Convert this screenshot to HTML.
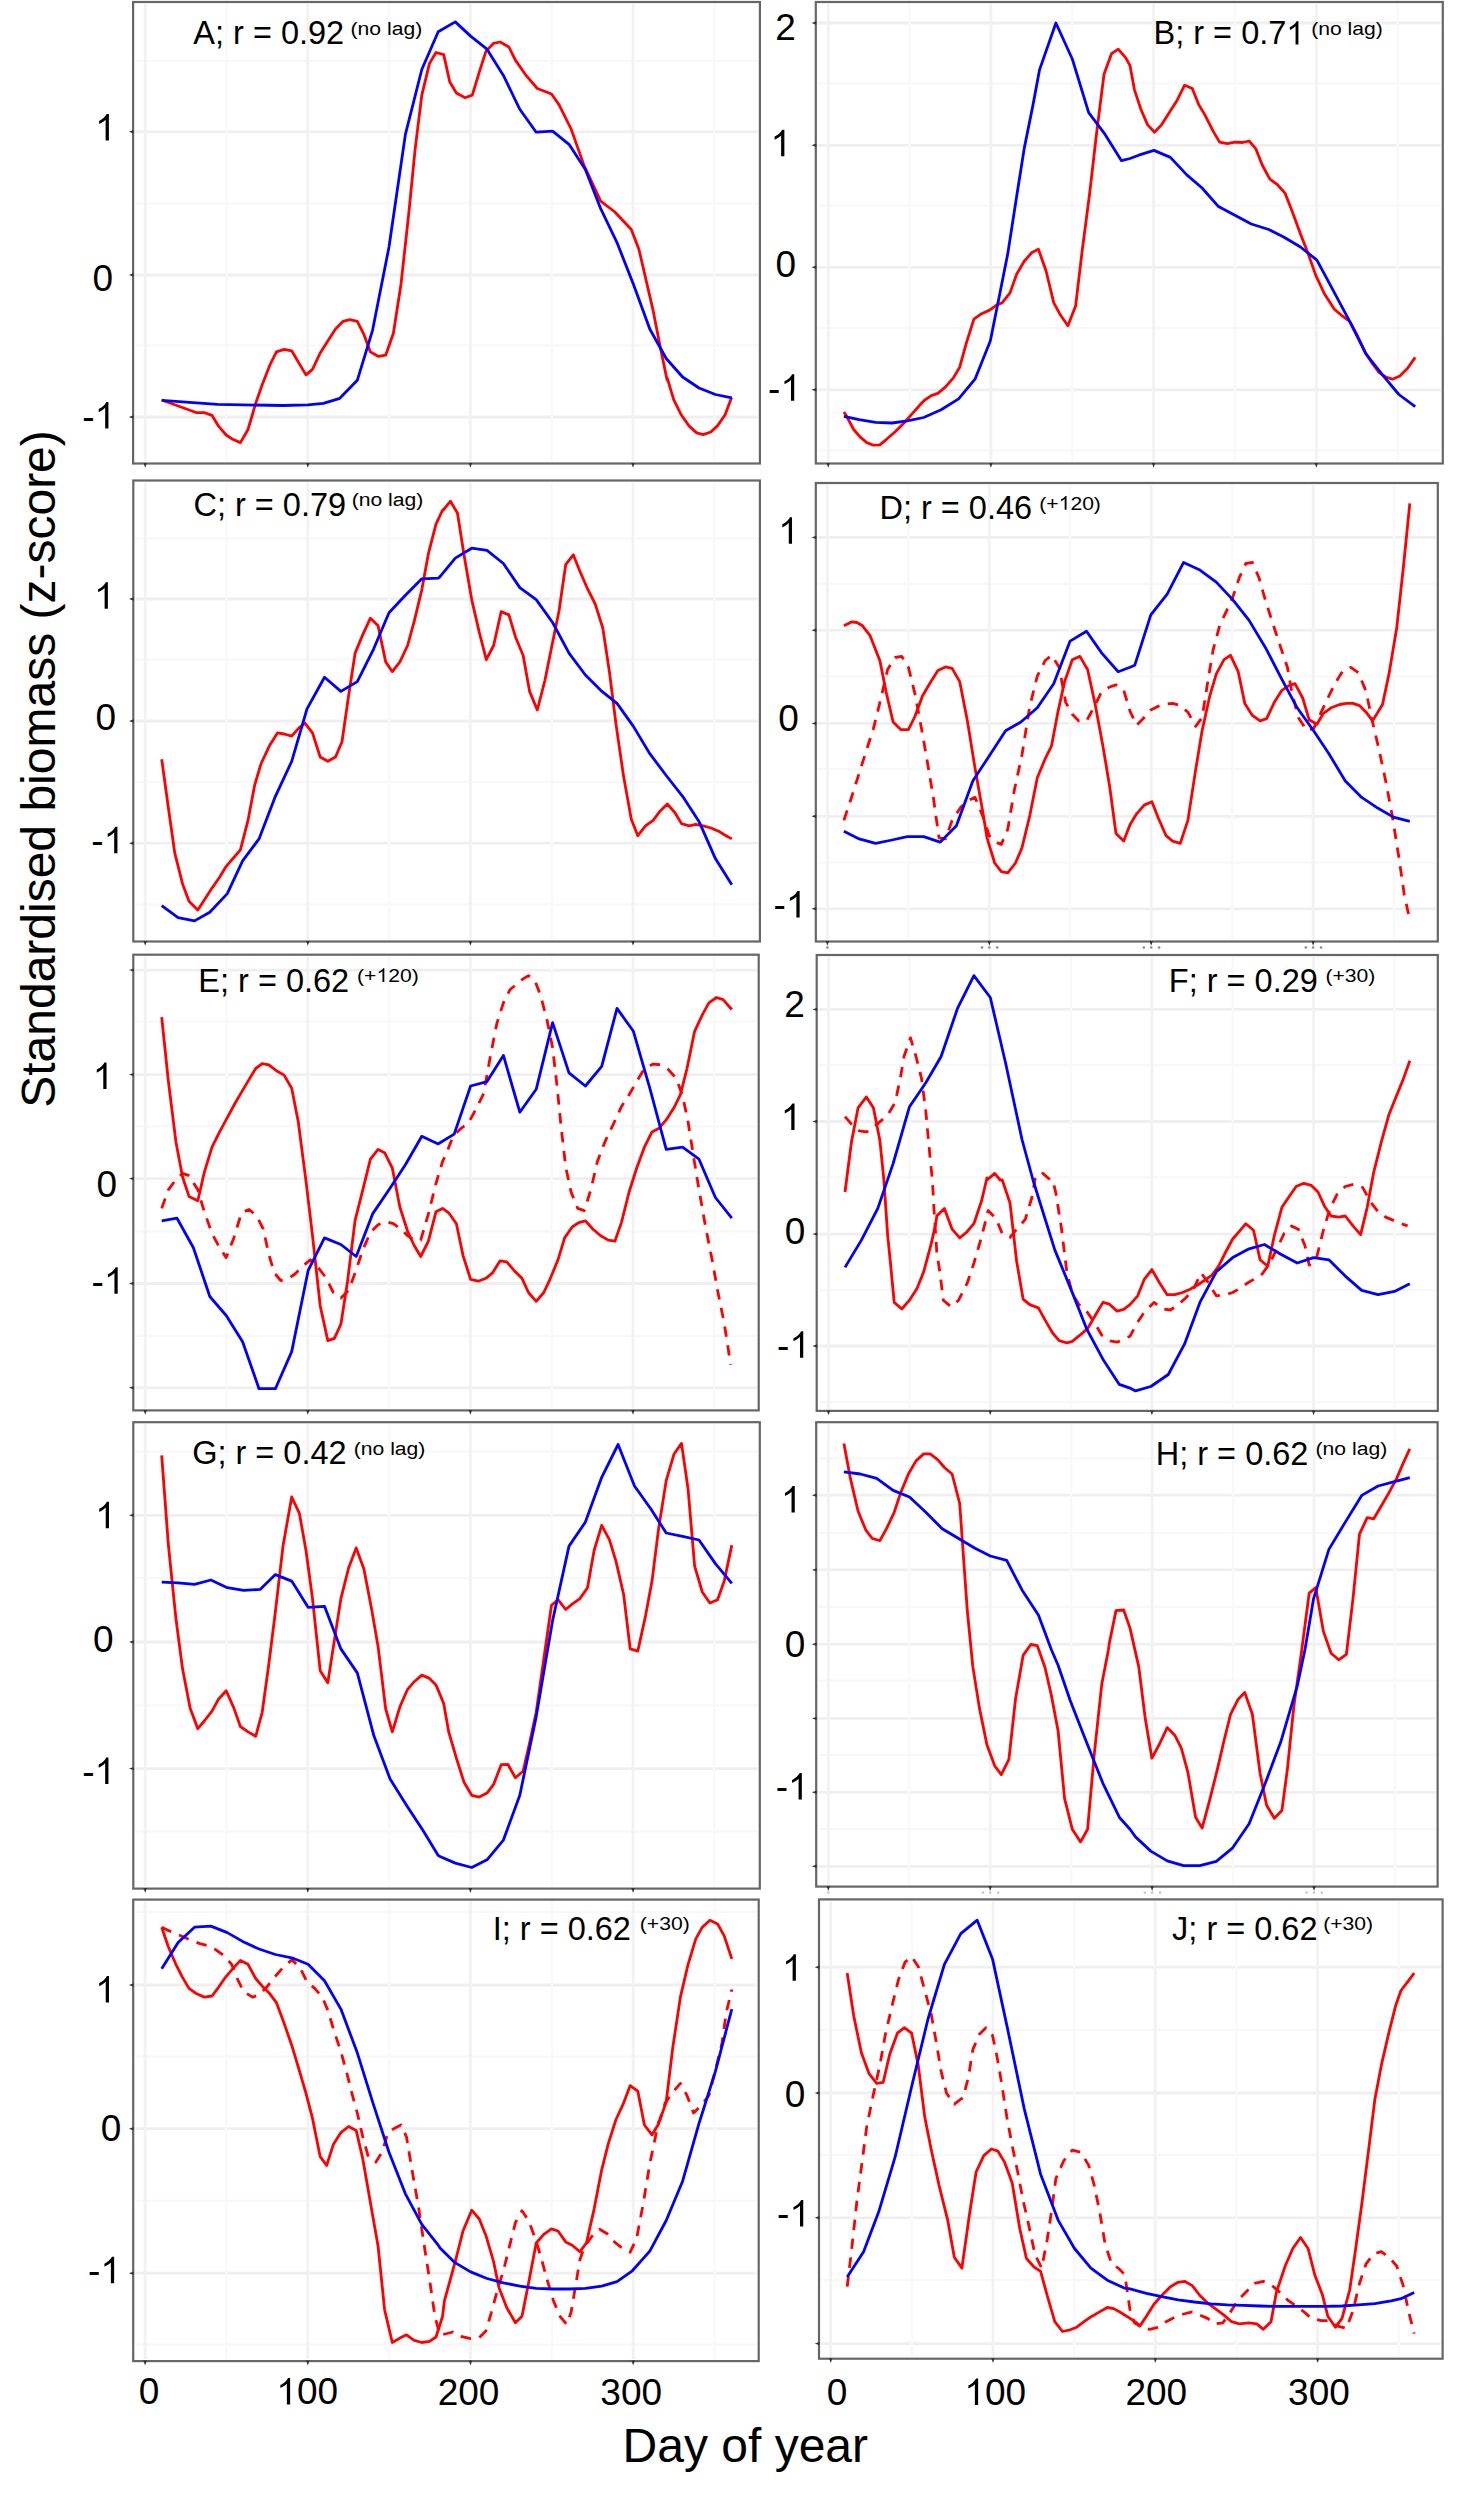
<!DOCTYPE html><html><head><meta charset="utf-8"><style>html,body{margin:0;padding:0;background:#fff;}svg{display:block;}svg text{font-family:"Liberation Sans", sans-serif;}</style></head><body>
<svg width="1464" height="2500" viewBox="0 0 1464 2500">
<rect width="1464" height="2500" fill="#fff"/>
<line x1="135.1" y1="60.8" x2="757.9" y2="60.8" stroke="#f8f8f8" stroke-width="2.2"/>
<line x1="135.1" y1="131.8" x2="757.9" y2="131.8" stroke="#efefef" stroke-width="2.8"/>
<line x1="135.1" y1="203.3" x2="757.9" y2="203.3" stroke="#f8f8f8" stroke-width="2.2"/>
<line x1="135.1" y1="275" x2="757.9" y2="275" stroke="#efefef" stroke-width="2.8"/>
<line x1="135.1" y1="345.4" x2="757.9" y2="345.4" stroke="#f8f8f8" stroke-width="2.2"/>
<line x1="135.1" y1="417" x2="757.9" y2="417" stroke="#efefef" stroke-width="2.8"/>
<line x1="145.2" y1="4" x2="145.2" y2="461.5" stroke="#f2f2f2" stroke-width="2.8"/>
<line x1="226.5" y1="4" x2="226.5" y2="461.5" stroke="#f9f9f9" stroke-width="2.4"/>
<line x1="307.8" y1="4" x2="307.8" y2="461.5" stroke="#f2f2f2" stroke-width="2.8"/>
<line x1="389.1" y1="4" x2="389.1" y2="461.5" stroke="#f9f9f9" stroke-width="2.4"/>
<line x1="470.4" y1="4" x2="470.4" y2="461.5" stroke="#f2f2f2" stroke-width="2.8"/>
<line x1="551.7" y1="4" x2="551.7" y2="461.5" stroke="#f9f9f9" stroke-width="2.4"/>
<line x1="633" y1="4" x2="633" y2="461.5" stroke="#f2f2f2" stroke-width="2.8"/>
<line x1="714.3" y1="4" x2="714.3" y2="461.5" stroke="#f9f9f9" stroke-width="2.4"/>
<path d="M161.7 400 L196.7 412.7 L204.3 412.7 L212 415.3 L218.5 426.2 L226.2 435 L232.7 439.3 L240.4 442.6 L248 429.5 L255.7 403.3 L262.2 384.7 L269.9 365 L276.4 351.9 L284.1 349.3 L291.7 350.8 L299.4 363.9 L306 374.9 L312.5 369.4 L320.2 353 L327.8 341 L335.5 329 L343.1 321.3 L349.7 319.6 L357.3 321.3 L363.9 334.4 L370.4 351.9 L378.1 356.3 L385.7 355.2 L393.4 333.3 L401 284.2 L408.7 214.2 L415.2 148.6 L421.8 95.1 L429.5 63.4 L436 52.5 L443.7 54.6 L449.8 82 L456.4 92.9 L465.1 97.7 L472.3 95.1 L479.3 72.1 L485.9 51.4 L493.6 43.3 L500.1 42 L508.9 47 L515.4 60.1 L525.2 74.3 L537.3 88.5 L551.5 94 L559.1 104.9 L571.1 129 L584.3 166.1 L600.7 201.1 L614.9 212 L631.3 229.5 L638.9 249.2 L653.1 310.4 L660.8 349.7 L667.1 380 L667.3 378.1 L673.7 399.7 L681.3 415 L689 425.9 L696.6 432.9 L703.2 434.6 L710.8 432 L717.4 425.9 L725 415 L731.6 397.5" fill="none" stroke="#ff0000" stroke-width="2.8" stroke-linejoin="round"/>
<path d="M161.7 400.4 L217.4 404.4 L283 405.5 L308.1 404.8 L323.4 403.3 L339.8 398.3 L357.3 380.3 L372.6 330.1 L389 247 L405.4 134.4 L421.8 69.5 L438.2 31.7 L455.3 21.9 L470.6 36.1 L487 49.2 L503.4 75.4 L519.8 109.3 L536.2 132.2 L552.6 131.1 L569 144.3 L585.4 169.4 L600.7 208.7 L617 242.6 L633.4 284.2 L649.8 329 L666.2 358.5 L682.6 377 L699 388 L715.4 394.5 L731.8 397.8" fill="none" stroke="#0000ff" stroke-width="2.8" stroke-linejoin="round"/>
<rect x="133.1" y="2" width="626.8" height="461.5" fill="none" stroke="#666" stroke-width="2.2"/>
<path d="M133.60 130.10L133.60 133.50L128.80 131.80Z" fill="#333"/>
<path d="M133.60 273.30L133.60 276.70L128.80 275.00Z" fill="#333"/>
<path d="M133.60 415.30L133.60 418.70L128.80 417.00Z" fill="#333"/>
<path d="M143.50 463.00L146.90 463.00L145.20 467.80Z" fill="#333"/>
<path d="M306.10 463.00L309.50 463.00L307.80 467.80Z" fill="#333"/>
<path d="M468.70 463.00L472.10 463.00L470.40 467.80Z" fill="#333"/>
<path d="M631.30 463.00L634.70 463.00L633.00 467.80Z" fill="#333"/>
<path d="M763 0L583 0L583 1147C518 1085 433 1023 327 961C286 937 250 919 223 906L223 1080C315 1123 396 1175 466 1236C536 1297 586 1357 616 1415L646 1466L763 1466Z" transform="translate(95.09 140.44) scale(0.01807 -0.01807)"/>
<text x="92.61" y="290.99" font-size="37">0</text>
<text x="82.33" y="428.54" font-size="37">-</text><path d="M763 0L583 0L583 1147C518 1085 433 1023 327 961C286 937 250 919 223 906L223 1080C315 1123 396 1175 466 1236C536 1297 586 1357 616 1415L646 1466L763 1466Z" transform="translate(94.65 428.54) scale(0.01807 -0.01807)"/>
<text x="193.34" y="44.40" font-size="32.5" xml:space="preserve">A; r = 0.92</text>
<g transform="translate(350.59 34.70) scale(1.1 1)"><text x="0.00" y="0.00" font-size="19.2" xml:space="preserve">(no lag)</text></g>
<line x1="817.8" y1="23" x2="1440.8" y2="23" stroke="#efefef" stroke-width="2.8"/>
<line x1="817.8" y1="83.7" x2="1440.8" y2="83.7" stroke="#f8f8f8" stroke-width="2.2"/>
<line x1="817.8" y1="145.3" x2="1440.8" y2="145.3" stroke="#efefef" stroke-width="2.8"/>
<line x1="817.8" y1="205.5" x2="1440.8" y2="205.5" stroke="#f8f8f8" stroke-width="2.2"/>
<line x1="817.8" y1="267.3" x2="1440.8" y2="267.3" stroke="#efefef" stroke-width="2.8"/>
<line x1="817.8" y1="328" x2="1440.8" y2="328" stroke="#f8f8f8" stroke-width="2.2"/>
<line x1="817.8" y1="389.8" x2="1440.8" y2="389.8" stroke="#efefef" stroke-width="2.8"/>
<line x1="817.8" y1="450.3" x2="1440.8" y2="450.3" stroke="#f8f8f8" stroke-width="2.2"/>
<line x1="828.2" y1="4" x2="828.2" y2="461.5" stroke="#f2f2f2" stroke-width="2.8"/>
<line x1="909.6" y1="4" x2="909.6" y2="461.5" stroke="#f9f9f9" stroke-width="2.4"/>
<line x1="990.9" y1="4" x2="990.9" y2="461.5" stroke="#f2f2f2" stroke-width="2.8"/>
<line x1="1072.2" y1="4" x2="1072.2" y2="461.5" stroke="#f9f9f9" stroke-width="2.4"/>
<line x1="1153.6" y1="4" x2="1153.6" y2="461.5" stroke="#f2f2f2" stroke-width="2.8"/>
<line x1="1235" y1="4" x2="1235" y2="461.5" stroke="#f9f9f9" stroke-width="2.4"/>
<line x1="1316.3" y1="4" x2="1316.3" y2="461.5" stroke="#f2f2f2" stroke-width="2.8"/>
<line x1="1397.7" y1="4" x2="1397.7" y2="461.5" stroke="#f9f9f9" stroke-width="2.4"/>
<path d="M843.9 412 L846.1 415.3 L853.7 429.5 L860.3 437.2 L866.8 442.6 L873.4 445.2 L879.9 444.8 L886.5 439.3 L895.2 431.7 L904 423 L912.7 413.1 L921.5 403.3 L924.8 400 L931.3 395.6 L937.9 393.4 L945.5 386.9 L953.2 378.1 L959.7 367.2 L966.3 343.2 L973.9 319.1 L981.6 313.7 L989.2 310.4 L996.9 304.9 L1002.3 302.7 L1010 292.9 L1016.6 274.3 L1024.2 261.2 L1031.9 252.5 L1038.4 249.2 L1046.1 271 L1053.7 302.7 L1060.3 314.8 L1067.9 325.7 L1075.6 306 L1082.1 251.4 L1089.8 192.3 L1096.3 135.5 L1104 74.3 L1111.6 53.6 L1118.2 49.2 L1125.8 57.9 L1130 65.6 L1134.4 89.6 L1140.9 109.3 L1147.5 124.6 L1154.5 132.2 L1161.7 124.6 L1169.3 112.6 L1177 100.5 L1184.6 85.2 L1192.3 88.5 L1198.9 104.9 L1205.4 115.8 L1213.1 131.1 L1219.6 142.1 L1227.3 143.6 L1234.9 142.1 L1242.6 142.5 L1249.1 141 L1255.7 148.6 L1262.2 165 L1269.9 179.2 L1277.5 184.7 L1285.2 193.4 L1292.8 213.1 L1300.5 233.9 L1308.1 253.6 L1315.8 275.4 L1324.5 294 L1334.4 309.3 L1340.9 314.8 L1349.7 321.3 L1357.3 335.5 L1365 351.9 L1372.6 363.9 L1379.2 372.7 L1385.7 377 L1392.3 379.2 L1399.9 376 L1407.6 368.3 L1415.2 357.4" fill="none" stroke="#ff0000" stroke-width="2.8" stroke-linejoin="round"/>
<path d="M843.9 416.4 L859.2 419.7 L875.6 422.3 L892 423 L907.3 420.8 L923.7 417.5 L941.1 409.8 L958.6 398.9 L975 379.2 L990.3 341 L999.1 297.3 L1007.8 253.6 L1016.6 196.7 L1024.2 148.6 L1033 104.9 L1039.5 69.9 L1055.9 23 L1072.3 59 L1088.7 112.6 L1105.1 134.4 L1121.5 160.7 L1130 158.5 L1138.7 155.2 L1154 150.4 L1170.4 157.4 L1186.8 174.9 L1202.1 188 L1218.5 206.6 L1234.9 215.3 L1251.3 224 L1268.8 229.5 L1284.1 237.2 L1300.5 247 L1316.9 260.1 L1333.3 290.7 L1349.7 321.3 L1366.1 354.1 L1382.5 374.9 L1398.9 394.5 L1415.2 406.6" fill="none" stroke="#0000ff" stroke-width="2.8" stroke-linejoin="round"/>
<rect x="815.8" y="2" width="627" height="461.5" fill="none" stroke="#666" stroke-width="2.2"/>
<path d="M816.30 21.30L816.30 24.70L811.50 23.00Z" fill="#333"/>
<path d="M816.30 143.60L816.30 147.00L811.50 145.30Z" fill="#333"/>
<path d="M816.30 265.60L816.30 269.00L811.50 267.30Z" fill="#333"/>
<path d="M816.30 388.10L816.30 391.50L811.50 389.80Z" fill="#333"/>
<path d="M826.50 463.00L829.90 463.00L828.20 467.80Z" fill="#333"/>
<path d="M989.20 463.00L992.60 463.00L990.90 467.80Z" fill="#333"/>
<path d="M1151.90 463.00L1155.30 463.00L1153.60 467.80Z" fill="#333"/>
<path d="M1314.60 463.00L1318.00 463.00L1316.30 467.80Z" fill="#333"/>
<text x="775.21" y="40.27" font-size="37">2</text>
<path d="M763 0L583 0L583 1147C518 1085 433 1023 327 961C286 937 250 919 223 906L223 1080C315 1123 396 1175 466 1236C536 1297 586 1357 616 1415L646 1466L763 1466Z" transform="translate(770.59 156.14) scale(0.01807 -0.01807)"/>
<text x="775.46" y="277.24" font-size="37">0</text>
<text x="768.12" y="400.74" font-size="37">-</text><path d="M763 0L583 0L583 1147C518 1085 433 1023 327 961C286 937 250 919 223 906L223 1080C315 1123 396 1175 466 1236C536 1297 586 1357 616 1415L646 1466L763 1466Z" transform="translate(780.45 400.74) scale(0.01807 -0.01807)"/>
<text x="1153.54" y="44.40" font-size="32.5" xml:space="preserve">B; r = 0.7</text><path d="M763 0L583 0L583 1147C518 1085 433 1023 327 961C286 937 250 919 223 906L223 1080C315 1123 396 1175 466 1236C536 1297 586 1357 616 1415L646 1466L763 1466Z" transform="translate(1286.31 44.40) scale(0.01587 -0.01587)"/>
<g transform="translate(1311.19 34.70) scale(1.1 1)"><text x="0.00" y="0.00" font-size="19.2" xml:space="preserve">(no lag)</text></g>
<line x1="135.3" y1="538.4" x2="757.9" y2="538.4" stroke="#f8f8f8" stroke-width="2.2"/>
<line x1="135.3" y1="599" x2="757.9" y2="599" stroke="#efefef" stroke-width="2.8"/>
<line x1="135.3" y1="659.7" x2="757.9" y2="659.7" stroke="#f8f8f8" stroke-width="2.2"/>
<line x1="135.3" y1="721" x2="757.9" y2="721" stroke="#efefef" stroke-width="2.8"/>
<line x1="135.3" y1="782.1" x2="757.9" y2="782.1" stroke="#f8f8f8" stroke-width="2.2"/>
<line x1="135.3" y1="843.2" x2="757.9" y2="843.2" stroke="#efefef" stroke-width="2.8"/>
<line x1="135.3" y1="904.5" x2="757.9" y2="904.5" stroke="#f8f8f8" stroke-width="2.2"/>
<line x1="145.2" y1="482.5" x2="145.2" y2="939.5" stroke="#f2f2f2" stroke-width="2.8"/>
<line x1="226.5" y1="482.5" x2="226.5" y2="939.5" stroke="#f9f9f9" stroke-width="2.4"/>
<line x1="307.8" y1="482.5" x2="307.8" y2="939.5" stroke="#f2f2f2" stroke-width="2.8"/>
<line x1="389.1" y1="482.5" x2="389.1" y2="939.5" stroke="#f9f9f9" stroke-width="2.4"/>
<line x1="470.4" y1="482.5" x2="470.4" y2="939.5" stroke="#f2f2f2" stroke-width="2.8"/>
<line x1="551.7" y1="482.5" x2="551.7" y2="939.5" stroke="#f9f9f9" stroke-width="2.4"/>
<line x1="633" y1="482.5" x2="633" y2="939.5" stroke="#f2f2f2" stroke-width="2.8"/>
<line x1="714.3" y1="482.5" x2="714.3" y2="939.5" stroke="#f9f9f9" stroke-width="2.4"/>
<path d="M161.7 759.2 L168.3 807.2 L174.8 853.1 L182.5 883.7 L189 901.2 L197.8 910 L204.3 900.1 L212 888.1 L219.6 877.2 L226.2 866.3 L233.8 857.5 L240.4 849.9 L248 820.4 L254.6 785.4 L261.1 763.5 L269.9 744.9 L277.5 732.9 L284.1 734 L291.7 736.2 L298.3 728.6 L304.9 723.1 L312.5 732.9 L320.2 757 L327.8 761.3 L335.5 757 L342 741.7 L348.6 695.8 L355.1 653.1 L362.8 634.6 L370.4 618.2 L378.1 625.8 L385.7 661.9 L392.3 671.7 L399.9 661.9 L407.6 645.5 L414.2 621.4 L421.8 589.8 L428.4 553.7 L436 524.2 L442.6 510 L443.3 510 L450.5 501.2 L457.5 513.3 L464 554.8 L471.7 599.6 L479.3 632.4 L486.3 659.7 L493.6 645.5 L501.2 611.6 L508.9 614.9 L515.4 636.7 L523.1 655.3 L529.6 691.4 L537.3 710 L544.9 680.5 L551.5 647.7 L559.1 610.5 L565.7 564.6 L573.3 554.8 L579.9 571.2 L587.5 588.7 L595.2 604 L602.8 628 L609.4 671.7 L616 724.2 L623.6 776.6 L631.3 819.3 L637.8 835.7 L645.5 825.8 L653.1 820.4 L659.7 811.6 L667.3 804 L675 812.7 L681.5 823.6 L689.2 825.8 L695.7 824.3 L703.4 825.8 L711 828 L718.7 831.3 L725.2 835.2 L731.8 838.9" fill="none" stroke="#ff0000" stroke-width="2.8" stroke-linejoin="round"/>
<path d="M161.7 905.6 L178.1 917.6 L194.5 920.9 L209.8 912.2 L227.3 893.6 L242.6 860.8 L259 838.9 L275.4 796.3 L291.7 761.3 L307 708.9 L324.5 677.2 L340.9 691.4 L357.3 681.6 L373.7 648.8 L389 612.7 L405.4 595.2 L421.8 578.8 L438.2 578.2 L440 576.6 L455.3 558.1 L471.7 548.2 L487 550.4 L503.4 563.5 L519.8 587.6 L536.2 599.6 L552.6 622.5 L569 653.1 L585.4 675 L600.7 690.3 L617 703.4 L633.4 726.4 L649.8 753.7 L666.2 775.5 L682.6 796.3 L699 821.4 L715.4 858.6 L731.8 884.8" fill="none" stroke="#0000ff" stroke-width="2.8" stroke-linejoin="round"/>
<rect x="133.3" y="480.5" width="626.6" height="461" fill="none" stroke="#666" stroke-width="2.2"/>
<path d="M133.80 597.30L133.80 600.70L129.00 599.00Z" fill="#333"/>
<path d="M133.80 719.30L133.80 722.70L129.00 721.00Z" fill="#333"/>
<path d="M133.80 841.50L133.80 844.90L129.00 843.20Z" fill="#333"/>
<path d="M143.50 941.00L146.90 941.00L145.20 945.80Z" fill="#333"/>
<path d="M306.10 941.00L309.50 941.00L307.80 945.80Z" fill="#333"/>
<path d="M468.70 941.00L472.10 941.00L470.40 945.80Z" fill="#333"/>
<path d="M631.30 941.00L634.70 941.00L633.00 945.80Z" fill="#333"/>
<path d="M763 0L583 0L583 1147C518 1085 433 1023 327 961C286 937 250 919 223 906L223 1080C315 1123 396 1175 466 1236C536 1297 586 1357 616 1415L646 1466L763 1466Z" transform="translate(94.09 608.74) scale(0.01807 -0.01807)"/>
<text x="95.41" y="730.04" font-size="37">0</text>
<text x="91.33" y="853.29" font-size="37">-</text><path d="M763 0L583 0L583 1147C518 1085 433 1023 327 961C286 937 250 919 223 906L223 1080C315 1123 396 1175 466 1236C536 1297 586 1357 616 1415L646 1466L763 1466Z" transform="translate(103.65 853.29) scale(0.01807 -0.01807)"/>
<text x="193.45" y="516.10" font-size="32.5" xml:space="preserve">C; r = 0.79</text>
<g transform="translate(351.69 506.40) scale(1.1 1)"><text x="0.00" y="0.00" font-size="19.2" xml:space="preserve">(no lag)</text></g>
<line x1="817.8" y1="537.4" x2="1435.8" y2="537.4" stroke="#efefef" stroke-width="2.8"/>
<line x1="817.8" y1="583.9" x2="1435.8" y2="583.9" stroke="#f8f8f8" stroke-width="2.2"/>
<line x1="817.8" y1="630.2" x2="1435.8" y2="630.2" stroke="#efefef" stroke-width="2.8"/>
<line x1="817.8" y1="676.5" x2="1435.8" y2="676.5" stroke="#f8f8f8" stroke-width="2.2"/>
<line x1="817.8" y1="723.4" x2="1435.8" y2="723.4" stroke="#efefef" stroke-width="2.8"/>
<line x1="817.8" y1="769" x2="1435.8" y2="769" stroke="#f8f8f8" stroke-width="2.2"/>
<line x1="817.8" y1="816.3" x2="1435.8" y2="816.3" stroke="#efefef" stroke-width="2.8"/>
<line x1="817.8" y1="862.5" x2="1435.8" y2="862.5" stroke="#f8f8f8" stroke-width="2.2"/>
<line x1="817.8" y1="908.8" x2="1435.8" y2="908.8" stroke="#efefef" stroke-width="2.8"/>
<line x1="827.4" y1="485" x2="827.4" y2="939.5" stroke="#f2f2f2" stroke-width="2.8"/>
<line x1="908.4" y1="485" x2="908.4" y2="939.5" stroke="#f9f9f9" stroke-width="2.4"/>
<line x1="989.3" y1="485" x2="989.3" y2="939.5" stroke="#f2f2f2" stroke-width="2.8"/>
<line x1="1070.2" y1="485" x2="1070.2" y2="939.5" stroke="#f9f9f9" stroke-width="2.4"/>
<line x1="1151.2" y1="485" x2="1151.2" y2="939.5" stroke="#f2f2f2" stroke-width="2.8"/>
<line x1="1232.2" y1="485" x2="1232.2" y2="939.5" stroke="#f9f9f9" stroke-width="2.4"/>
<line x1="1313.1" y1="485" x2="1313.1" y2="939.5" stroke="#f2f2f2" stroke-width="2.8"/>
<line x1="1394" y1="485" x2="1394" y2="939.5" stroke="#f9f9f9" stroke-width="2.4"/>
<path d="M843.9 820.4 L850.4 800.7 L858.1 776.6 L865.7 752.6 L873.4 728.6 L881 698 L887.6 669.5 L895.2 657.5 L901.8 656.4 L908.4 667.3 L914.9 693.6 L921.5 728.6 L928 765.7 L933.5 798.5 L939 837.8 L945.5 838.9 L952.1 820.4 L960.8 807.2 L967.4 800.7 L975 797.4 L982.7 816 L989.2 835.7 L995.8 842.2 L1001.3 844.4 L1007.8 829.1 L1014.4 789.8 L1022 754.8 L1029.7 706.7 L1037.3 676.1 L1045 660.8 L1051.5 655.3 L1059.2 667.3 L1065.7 702.3 L1072.3 714.3 L1078.9 720.9 L1086.5 720.9 L1094.2 706.7 L1100.7 693.6 L1109.5 687 L1116 684.8 L1123.7 690.3 L1130 711.1 L1136.6 725.3 L1143.1 718.7 L1150.8 710 L1157.3 706.7 L1165 704.1 L1172.6 703.4 L1180.3 705.6 L1187.9 712.2 L1195.6 726.4 L1202.1 717.6 L1207.6 682.7 L1213.1 649.9 L1219.6 625.8 L1226.2 611.6 L1232.7 597.4 L1239.3 577.7 L1245.8 563.5 L1252.4 562.4 L1259 577.7 L1265.5 600.7 L1274.3 628 L1280.8 647.7 L1287.4 667.3 L1291.7 691.4 L1298.3 717.6 L1307 730.7 L1313.6 728.6 L1320.2 714.3 L1327.8 698 L1335.5 682.7 L1343.1 670.6 L1350.8 667.3 L1358.4 672.8 L1366.1 691.4 L1371.5 717.6 L1379.2 750.4 L1385.7 781 L1392.3 816 L1398.9 857.5 L1404.3 894.7 L1409.8 919.8" fill="none" stroke="#ff0000" stroke-width="2.8" stroke-linejoin="round" stroke-dasharray="10.5 8.5"/>
<path d="M843.9 625.8 L851.5 621.9 L857 622.5 L862.5 625.8 L870.1 635.7 L879.9 660.8 L886.5 693.6 L893.1 722 L900.7 729.6 L908.4 729.6 L914.9 716.5 L922.6 695.8 L930.2 682.7 L937.9 670.6 L945.5 666.9 L952.1 668.4 L959.7 681.6 L967.4 720.9 L975 767.9 L982.7 811.6 L987 837.8 L994.7 863 L1001.3 871.7 L1007.8 872.8 L1015.5 863 L1022 847.7 L1029.7 816 L1037.3 777.7 L1045 759.2 L1051.5 746 L1058.1 711.1 L1064.6 681.6 L1072.3 659.7 L1079.9 656.4 L1087.6 669.5 L1095.2 704.5 L1102.9 746 L1109.5 785.4 L1116 833.5 L1123.7 841.1 L1130 824.7 L1136.6 813.8 L1144.2 805.1 L1151.9 801.8 L1158.4 818.2 L1166.1 835.7 L1172.6 841.1 L1180.3 843.3 L1187.9 820.4 L1195.6 770.1 L1202.1 730.7 L1209.8 695.8 L1216.3 673.9 L1224 659.7 L1230.5 655.3 L1238.2 671.7 L1244.8 703.4 L1252.4 715.4 L1260.1 720.9 L1266.6 718.7 L1274.3 702.3 L1281.9 690.3 L1288.5 685.9 L1295 683.7 L1302.7 698 L1309.2 719.8 L1316.9 724.2 L1323.4 713.3 L1331.1 707.8 L1339.8 704.5 L1346.4 703.4 L1353 703.4 L1359.5 705.6 L1366.1 712.2 L1372.6 720.9 L1382.5 704.5 L1389 673.9 L1396.7 628 L1403.2 569 L1409.8 503.4" fill="none" stroke="#ff0000" stroke-width="2.8" stroke-linejoin="round"/>
<path d="M843.9 831.3 L859.2 838.9 L875.6 843.3 L892 840 L907.3 836.7 L923.7 836.7 L940.1 842.2 L956.4 825.8 L972.8 781 L989.2 755.9 L1005.6 730.7 L1020.9 722 L1037.3 707.8 L1053.7 683.7 L1070.1 641.1 L1086.5 631.3 L1101.8 653.1 L1118.2 671.7 L1130 667.3 L1134.8 665.2 L1150.8 614.9 L1167.2 594.1 L1183.6 562.4 L1199.9 570.1 L1216.3 582.1 L1232.7 599.6 L1249.1 620.4 L1265.5 647.7 L1281.9 679.4 L1297.2 707.8 L1313.6 730.7 L1328.9 753.7 L1345.3 781 L1361.7 797.4 L1378.1 808.3 L1393.4 817.1 L1409.8 821.4" fill="none" stroke="#0000ff" stroke-width="2.8" stroke-linejoin="round"/>
<rect x="815.8" y="483" width="622" height="458.5" fill="none" stroke="#666" stroke-width="2.2"/>
<path d="M816.30 535.70L816.30 539.10L811.50 537.40Z" fill="#333"/>
<path d="M816.30 628.50L816.30 631.90L811.50 630.20Z" fill="#333"/>
<path d="M816.30 721.70L816.30 725.10L811.50 723.40Z" fill="#333"/>
<path d="M816.30 814.60L816.30 818.00L811.50 816.30Z" fill="#333"/>
<path d="M816.30 907.10L816.30 910.50L811.50 908.80Z" fill="#333"/>
<path d="M825.70 941.00L829.10 941.00L827.40 945.80Z" fill="#333"/>
<circle cx="827.40" cy="947.50" r="1.3" fill="#8a8a8a"/>
<path d="M987.60 941.00L991.00 941.00L989.30 945.80Z" fill="#333"/>
<circle cx="982.00" cy="947.50" r="1.3" fill="#8a8a8a"/>
<circle cx="989.30" cy="947.50" r="1.3" fill="#8a8a8a"/>
<circle cx="997.20" cy="947.50" r="1.3" fill="#8a8a8a"/>
<path d="M1149.50 941.00L1152.90 941.00L1151.20 945.80Z" fill="#333"/>
<circle cx="1143.90" cy="947.50" r="1.3" fill="#8a8a8a"/>
<circle cx="1151.20" cy="947.50" r="1.3" fill="#8a8a8a"/>
<circle cx="1159.10" cy="947.50" r="1.3" fill="#8a8a8a"/>
<path d="M1311.40 941.00L1314.80 941.00L1313.10 945.80Z" fill="#333"/>
<circle cx="1305.80" cy="947.50" r="1.3" fill="#8a8a8a"/>
<circle cx="1313.10" cy="947.50" r="1.3" fill="#8a8a8a"/>
<circle cx="1321.00" cy="947.50" r="1.3" fill="#8a8a8a"/>
<path d="M763 0L583 0L583 1147C518 1085 433 1023 327 961C286 937 250 919 223 906L223 1080C315 1123 396 1175 466 1236C536 1297 586 1357 616 1415L646 1466L763 1466Z" transform="translate(778.24 543.79) scale(0.01807 -0.01807)"/>
<text x="778.26" y="731.24" font-size="37">0</text>
<text x="773.52" y="917.39" font-size="37">-</text><path d="M763 0L583 0L583 1147C518 1085 433 1023 327 961C286 937 250 919 223 906L223 1080C315 1123 396 1175 466 1236C536 1297 586 1357 616 1415L646 1466L763 1466Z" transform="translate(785.85 917.39) scale(0.01807 -0.01807)"/>
<text x="879.44" y="519.40" font-size="32.5" xml:space="preserve">D; r = 0.46</text>
<g transform="translate(1039.29 509.70) scale(1.1 1)"><text x="0.00" y="0.00" font-size="19.2" xml:space="preserve">(+</text><path d="M763 0L583 0L583 1147C518 1085 433 1023 327 961C286 937 250 919 223 906L223 1080C315 1123 396 1175 466 1236C536 1297 586 1357 616 1415L646 1466L763 1466Z" transform="translate(17.61 0.00) scale(0.00937 -0.00937)"/><text x="28.28" y="0.00" font-size="19.2" xml:space="preserve">20)</text></g>
<line x1="135.3" y1="970.1" x2="756.7" y2="970.1" stroke="#efefef" stroke-width="2.8"/>
<line x1="135.3" y1="1021.5" x2="756.7" y2="1021.5" stroke="#f8f8f8" stroke-width="2.2"/>
<line x1="135.3" y1="1074.6" x2="756.7" y2="1074.6" stroke="#efefef" stroke-width="2.8"/>
<line x1="135.3" y1="1126.4" x2="756.7" y2="1126.4" stroke="#f8f8f8" stroke-width="2.2"/>
<line x1="135.3" y1="1178.6" x2="756.7" y2="1178.6" stroke="#efefef" stroke-width="2.8"/>
<line x1="135.3" y1="1231.3" x2="756.7" y2="1231.3" stroke="#f8f8f8" stroke-width="2.2"/>
<line x1="135.3" y1="1283.5" x2="756.7" y2="1283.5" stroke="#efefef" stroke-width="2.8"/>
<line x1="135.3" y1="1335.8" x2="756.7" y2="1335.8" stroke="#f8f8f8" stroke-width="2.2"/>
<line x1="135.3" y1="1387.8" x2="756.7" y2="1387.8" stroke="#efefef" stroke-width="2.8"/>
<line x1="145.2" y1="956.7" x2="145.2" y2="1408.4" stroke="#f2f2f2" stroke-width="2.8"/>
<line x1="226.5" y1="956.7" x2="226.5" y2="1408.4" stroke="#f9f9f9" stroke-width="2.4"/>
<line x1="307.8" y1="956.7" x2="307.8" y2="1408.4" stroke="#f2f2f2" stroke-width="2.8"/>
<line x1="389.1" y1="956.7" x2="389.1" y2="1408.4" stroke="#f9f9f9" stroke-width="2.4"/>
<line x1="470.4" y1="956.7" x2="470.4" y2="1408.4" stroke="#f2f2f2" stroke-width="2.8"/>
<line x1="551.7" y1="956.7" x2="551.7" y2="1408.4" stroke="#f9f9f9" stroke-width="2.4"/>
<line x1="633" y1="956.7" x2="633" y2="1408.4" stroke="#f2f2f2" stroke-width="2.8"/>
<line x1="714.3" y1="956.7" x2="714.3" y2="1408.4" stroke="#f9f9f9" stroke-width="2.4"/>
<path d="M161.7 1208.4 L168.3 1189.8 L174.8 1181.1 L182.5 1173.4 L189 1175.6 L197.8 1189.8 L204.3 1211.7 L212 1233.5 L219.6 1247.7 L226.2 1257.6 L233.8 1237.9 L241.5 1212.8 L249.1 1209.5 L256.8 1216 L263.3 1229.2 L268.8 1254.3 L274.3 1272.9 L280.8 1280.5 L287.4 1279.4 L295 1274 L302.7 1266.3 L310.3 1259.8 L318 1267.4 L325.6 1277.2 L333.3 1292.5 L340.9 1298 L348.6 1290.4 L355.1 1272.9 L362.8 1249.9 L370.4 1232.4 L378.1 1224.8 L385.7 1221.5 L393.4 1223.7 L401 1229.2 L407.6 1235.7 L414.2 1240.1 L420.7 1240.1 L428.4 1213.9 L436 1183.3 L442.6 1161.4 L446.6 1152.7 L453.1 1136.3 L460.8 1128.6 L468.4 1123.1 L476.1 1108.9 L483.7 1093.6 L490.3 1056.5 L496.8 1023.7 L503.4 1002.9 L509.9 989.8 L517.6 983.3 L523.1 978.9 L528.5 975.6 L535.1 981.1 L540.5 995.3 L547.1 1020.4 L552.6 1047.7 L556.9 1084.9 L561.3 1128.6 L565.7 1166.9 L571.1 1192 L577.7 1208.4 L584.3 1210.6 L590.8 1189.8 L597.4 1161.4 L605 1141.7 L613.8 1123.1 L621.4 1106.7 L629.1 1094.7 L636.7 1081.6 L644.4 1068.5 L653.1 1064.1 L660.8 1064.8 L668.4 1069.6 L676.1 1078.3 L682.6 1095.8 L688.1 1122 L693.6 1157 L699 1189.8 L705.6 1227 L712.1 1259.8 L717.6 1290.4 L724.2 1323.1 L730.7 1364.7" fill="none" stroke="#ff0000" stroke-width="2.8" stroke-linejoin="round" stroke-dasharray="10.5 8.5"/>
<path d="M161.7 1017.1 L168.3 1080.5 L175.9 1141.7 L182.5 1176.7 L189 1196.4 L197.8 1200.7 L204.3 1172.3 L212 1147.2 L219.6 1131.9 L227.3 1117.7 L234.9 1103.5 L242.6 1090.4 L249.1 1079.4 L255.7 1068.5 L262.2 1063.7 L268.8 1064.8 L276.4 1070.7 L284.1 1075.1 L291.7 1088.2 L298.3 1122 L306 1181.1 L312.5 1235.7 L320.2 1305.7 L327.8 1340.6 L334.4 1338.4 L340.9 1324.2 L347.5 1281.6 L355.1 1220.4 L362.8 1189.8 L370.4 1159.2 L378.1 1149.4 L384.6 1152.7 L392.3 1168 L399.9 1207.3 L407.6 1231.3 L414.2 1245.5 L420.7 1256.5 L428.4 1241.2 L436 1211.7 L442.6 1208.4 L448.7 1212.8 L456.4 1223.7 L463 1255.4 L470.6 1279.4 L478.3 1281.2 L485.9 1278.3 L492.5 1272.9 L500.1 1260.8 L506.7 1261.9 L514.3 1270.7 L522 1278.3 L528.5 1292.5 L536.2 1301.3 L543.8 1292.5 L550.4 1278.3 L558 1259.8 L564.6 1237.9 L572.2 1227 L578.8 1222.6 L585.4 1220.8 L593 1229.2 L600.7 1235.7 L608.3 1240.1 L614.9 1241.2 L621.4 1222.6 L629.1 1192 L636.7 1168 L644.4 1147.2 L652 1131.9 L658.6 1128.6 L666.2 1119.9 L673.9 1107.8 L680.4 1094.7 L687 1068.5 L694.6 1031.3 L702.3 1014.9 L708.9 1002.9 L716.5 997.5 L723.1 999.6 L731.8 1009.5" fill="none" stroke="#ff0000" stroke-width="2.8" stroke-linejoin="round"/>
<path d="M161.7 1220.8 L177 1218.2 L193.4 1247.7 L209.8 1296.5 L226.2 1315.5 L242.6 1341.7 L259 1388.7 L275.4 1388.7 L291.7 1351.6 L308.1 1270.7 L324.5 1237.9 L340.9 1244.5 L356.2 1256.5 L372.6 1213.9 L389 1189.8 L405.4 1164.7 L421.8 1136.3 L438.2 1143.9 L440 1142.8 L454.2 1134.1 L470.6 1086 L487 1081.6 L503.4 1055.4 L519.8 1112.2 L536.2 1089.3 L552.6 1022.6 L569 1072.9 L585.4 1086 L601.7 1066.3 L617 1008.4 L633.4 1031.3 L649.8 1088.2 L666.2 1149.4 L682.6 1147.2 L699 1159.2 L715.4 1197.5 L731.8 1218.2" fill="none" stroke="#0000ff" stroke-width="2.8" stroke-linejoin="round"/>
<rect x="133.3" y="954.7" width="625.4" height="455.7" fill="none" stroke="#666" stroke-width="2.2"/>
<path d="M133.80 968.40L133.80 971.80L129.00 970.10Z" fill="#333"/>
<path d="M133.80 1072.90L133.80 1076.30L129.00 1074.60Z" fill="#333"/>
<path d="M133.80 1176.90L133.80 1180.30L129.00 1178.60Z" fill="#333"/>
<path d="M133.80 1281.80L133.80 1285.20L129.00 1283.50Z" fill="#333"/>
<path d="M133.80 1386.10L133.80 1389.50L129.00 1387.80Z" fill="#333"/>
<path d="M143.50 1409.90L146.90 1409.90L145.20 1414.70Z" fill="#333"/>
<path d="M306.10 1409.90L309.50 1409.90L307.80 1414.70Z" fill="#333"/>
<path d="M468.70 1409.90L472.10 1409.90L470.40 1414.70Z" fill="#333"/>
<path d="M631.30 1409.90L634.70 1409.90L633.00 1414.70Z" fill="#333"/>
<path d="M763 0L583 0L583 1147C518 1085 433 1023 327 961C286 937 250 919 223 906L223 1080C315 1123 396 1175 466 1236C536 1297 586 1357 616 1415L646 1466L763 1466Z" transform="translate(92.74 1089.04) scale(0.01807 -0.01807)"/>
<text x="96.56" y="1197.24" font-size="37">0</text>
<text x="91.57" y="1293.79" font-size="37">-</text><path d="M763 0L583 0L583 1147C518 1085 433 1023 327 961C286 937 250 919 223 906L223 1080C315 1123 396 1175 466 1236C536 1297 586 1357 616 1415L646 1466L763 1466Z" transform="translate(103.90 1293.79) scale(0.01807 -0.01807)"/>
<text x="198.34" y="991.60" font-size="32.5" xml:space="preserve">E; r = 0.62</text>
<g transform="translate(357.09 981.90) scale(1.1 1)"><text x="0.00" y="0.00" font-size="19.2" xml:space="preserve">(+</text><path d="M763 0L583 0L583 1147C518 1085 433 1023 327 961C286 937 250 919 223 906L223 1080C315 1123 396 1175 466 1236C536 1297 586 1357 616 1415L646 1466L763 1466Z" transform="translate(17.61 0.00) scale(0.00937 -0.00937)"/><text x="28.28" y="0.00" font-size="19.2" xml:space="preserve">20)</text></g>
<line x1="818.7" y1="1009.4" x2="1435.8" y2="1009.4" stroke="#efefef" stroke-width="2.8"/>
<line x1="818.7" y1="1065.2" x2="1435.8" y2="1065.2" stroke="#f8f8f8" stroke-width="2.2"/>
<line x1="818.7" y1="1121.5" x2="1435.8" y2="1121.5" stroke="#efefef" stroke-width="2.8"/>
<line x1="818.7" y1="1177.3" x2="1435.8" y2="1177.3" stroke="#f8f8f8" stroke-width="2.2"/>
<line x1="818.7" y1="1234.1" x2="1435.8" y2="1234.1" stroke="#efefef" stroke-width="2.8"/>
<line x1="818.7" y1="1289.9" x2="1435.8" y2="1289.9" stroke="#f8f8f8" stroke-width="2.2"/>
<line x1="818.7" y1="1346" x2="1435.8" y2="1346" stroke="#efefef" stroke-width="2.8"/>
<line x1="818.7" y1="1402.2" x2="1435.8" y2="1402.2" stroke="#f8f8f8" stroke-width="2.2"/>
<line x1="828.5" y1="957" x2="828.5" y2="1408.9" stroke="#f2f2f2" stroke-width="2.8"/>
<line x1="909.4" y1="957" x2="909.4" y2="1408.9" stroke="#f9f9f9" stroke-width="2.4"/>
<line x1="990.2" y1="957" x2="990.2" y2="1408.9" stroke="#f2f2f2" stroke-width="2.8"/>
<line x1="1071" y1="957" x2="1071" y2="1408.9" stroke="#f9f9f9" stroke-width="2.4"/>
<line x1="1151.9" y1="957" x2="1151.9" y2="1408.9" stroke="#f2f2f2" stroke-width="2.8"/>
<line x1="1232.8" y1="957" x2="1232.8" y2="1408.9" stroke="#f9f9f9" stroke-width="2.4"/>
<line x1="1313.6" y1="957" x2="1313.6" y2="1408.9" stroke="#f2f2f2" stroke-width="2.8"/>
<line x1="1394.5" y1="957" x2="1394.5" y2="1408.9" stroke="#f9f9f9" stroke-width="2.4"/>
<path d="M845 1116.6 L851.5 1124.2 L859.2 1130.8 L866.8 1131.9 L874.5 1126.4 L882.1 1119.9 L888.7 1113.3 L895.2 1102.4 L900.7 1076.1 L904 1056.5 L910.5 1037.9 L916 1056.5 L921.5 1078.3 L925.8 1111.1 L930.2 1159.2 L932.4 1180 L934.2 1212.8 L936.8 1252.1 L940.1 1274 L943.3 1300.2 L951 1306.8 L958.6 1300.2 L967.4 1282.7 L973.9 1263.1 L981.6 1236.8 L988.1 1210.6 L995.8 1218.3 L1002.3 1233.6 L1010 1237.3 L1017.7 1228.1 L1025.3 1219.3 L1031.9 1197.5 L1035.1 1178.9 L1035.1 1180 L1042.8 1173.4 L1050.4 1180 L1052.6 1180 L1055.9 1193.1 L1061.4 1228.1 L1066.8 1271.8 L1072.3 1293.7 L1078.9 1304.6 L1086.5 1311.1 L1094.2 1322.1 L1101.8 1335.2 L1109.5 1340.7 L1117.1 1342.2 L1124.8 1338.5 L1130 1336.3 L1137.7 1322 L1144.2 1312.2 L1154 1302.4 L1162.8 1308.9 L1170.4 1310 L1178.1 1304.6 L1185.7 1298 L1193.4 1289.3 L1201 1272.9 L1207.6 1281.6 L1216.3 1295.8 L1225.1 1294.7 L1232.7 1292.5 L1240.4 1288.2 L1248 1282.7 L1255.7 1278.3 L1262.2 1274 L1269.9 1263 L1276.4 1249.9 L1284.1 1233.5 L1291.7 1225.9 L1298.3 1229.2 L1304.9 1245.5 L1309.2 1265.2 L1316.9 1256.5 L1323.4 1230.2 L1330 1208.4 L1337.7 1193.1 L1345.3 1186.5 L1354 1184.3 L1362.8 1187.6 L1370.4 1201.8 L1378.1 1211.7 L1385.7 1217.1 L1393.4 1220.4 L1401 1223.7 L1407.6 1225.9" fill="none" stroke="#ff0000" stroke-width="2.8" stroke-linejoin="round" stroke-dasharray="10.5 8.5"/>
<path d="M845 1192 L851.5 1141.7 L858.1 1107.8 L866.4 1096.9 L873.4 1107.8 L879.9 1140.6 L883.9 1180 L887.6 1234.6 L890.9 1267.4 L894.2 1302.4 L901.8 1309 L909.5 1300.2 L917.1 1288.2 L923.7 1271.8 L931.3 1243.4 L935.7 1223.7 L936.8 1216.1 L944.4 1208.4 L952.1 1229.2 L959.7 1237.9 L966.3 1232.5 L973.9 1223.7 L981.6 1200.8 L987 1177.8 L987 1180 L994.7 1173.4 L1000.2 1180 L1002.3 1180 L1010 1203 L1016.6 1260.9 L1023.1 1299.1 L1029.7 1304.6 L1038.4 1307.9 L1045 1319.9 L1052.6 1333 L1059.2 1340.7 L1066.8 1342.8 L1072.3 1341.3 L1079.9 1335.2 L1087.6 1328.6 L1095.2 1315.5 L1102.9 1302.4 L1109.5 1304.2 L1117.1 1311.1 L1123.7 1309.4 L1130 1304.6 L1137.7 1295.8 L1144.2 1279.4 L1151.9 1269.6 L1159.5 1282.7 L1167.2 1294.7 L1174.8 1294.7 L1182.5 1292.5 L1190.1 1289.3 L1197.8 1284.9 L1204.3 1280.5 L1212 1275.1 L1218.5 1266.3 L1226.2 1251 L1232.7 1239 L1239.3 1231.3 L1245.8 1223.7 L1253.5 1230.2 L1260.1 1259.8 L1267.7 1266.3 L1274.3 1235.7 L1281.9 1207.3 L1288.5 1197.5 L1296.1 1186.5 L1303.8 1183.3 L1311.4 1185.4 L1318 1192 L1324.5 1206.2 L1331.1 1216 L1338.7 1217.1 L1345.3 1216 L1353 1225.9 L1360.6 1234.6 L1367.2 1207.3 L1373.7 1172.3 L1381.4 1141.7 L1389 1114.4 L1395.6 1098 L1403.2 1079.4 L1409.8 1060.8" fill="none" stroke="#ff0000" stroke-width="2.8" stroke-linejoin="round"/>
<path d="M845 1267.4 L861.4 1240.1 L877.8 1208.4 L893.1 1163.6 L909.5 1106.7 L925.8 1082.7 L941.1 1056.5 L957.5 1008.4 L973.9 975.6 L990.3 997.5 L1005.6 1063 L1022 1139.5 L1033 1180 L1038.4 1197.5 L1054.8 1249.9 L1070.1 1287.1 L1086.5 1328.6 L1102.9 1359.2 L1119.3 1384.4 L1130 1388.1 L1135.5 1390.9 L1150.8 1386.5 L1168.3 1374.5 L1184.6 1343.9 L1199.9 1302.4 L1216.3 1271.8 L1232.7 1257.6 L1249.1 1248.8 L1264.4 1244.5 L1280.8 1254.3 L1297.2 1263 L1313.6 1257.6 L1328.9 1259.8 L1345.3 1276.1 L1361.7 1290.4 L1378.1 1294.7 L1394.5 1291.4 L1409.8 1283.8" fill="none" stroke="#0000ff" stroke-width="2.8" stroke-linejoin="round"/>
<rect x="816.7" y="955" width="621.1" height="455.9" fill="none" stroke="#666" stroke-width="2.2"/>
<path d="M817.20 1007.70L817.20 1011.10L812.40 1009.40Z" fill="#333"/>
<path d="M817.20 1119.80L817.20 1123.20L812.40 1121.50Z" fill="#333"/>
<path d="M817.20 1232.40L817.20 1235.80L812.40 1234.10Z" fill="#333"/>
<path d="M817.20 1344.30L817.20 1347.70L812.40 1346.00Z" fill="#333"/>
<path d="M826.80 1410.40L830.20 1410.40L828.50 1415.20Z" fill="#333"/>
<path d="M988.50 1410.40L991.90 1410.40L990.20 1415.20Z" fill="#333"/>
<path d="M1150.20 1410.40L1153.60 1410.40L1151.90 1415.20Z" fill="#333"/>
<path d="M1311.90 1410.40L1315.30 1410.40L1313.60 1415.20Z" fill="#333"/>
<text x="784.26" y="1016.52" font-size="37">2</text>
<path d="M763 0L583 0L583 1147C518 1085 433 1023 327 961C286 937 250 919 223 906L223 1080C315 1123 396 1175 466 1236C536 1297 586 1357 616 1415L646 1466L763 1466Z" transform="translate(780.74 1129.89) scale(0.01807 -0.01807)"/>
<text x="784.76" y="1244.39" font-size="37">0</text>
<text x="777.12" y="1357.74" font-size="37">-</text><path d="M763 0L583 0L583 1147C518 1085 433 1023 327 961C286 937 250 919 223 906L223 1080C315 1123 396 1175 466 1236C536 1297 586 1357 616 1415L646 1466L763 1466Z" transform="translate(789.45 1357.74) scale(0.01807 -0.01807)"/>
<text x="1168.84" y="991.60" font-size="32.5" xml:space="preserve">F; r = 0.29</text>
<g transform="translate(1325.39 981.90) scale(1.1 1)"><text x="0.00" y="0.00" font-size="19.2" xml:space="preserve">(+30)</text></g>
<line x1="135.3" y1="1451.7" x2="757.8" y2="1451.7" stroke="#f8f8f8" stroke-width="2.2"/>
<line x1="135.3" y1="1515.3" x2="757.8" y2="1515.3" stroke="#efefef" stroke-width="2.8"/>
<line x1="135.3" y1="1577.8" x2="757.8" y2="1577.8" stroke="#f8f8f8" stroke-width="2.2"/>
<line x1="135.3" y1="1642" x2="757.8" y2="1642" stroke="#efefef" stroke-width="2.8"/>
<line x1="135.3" y1="1705.3" x2="757.8" y2="1705.3" stroke="#f8f8f8" stroke-width="2.2"/>
<line x1="135.3" y1="1768.6" x2="757.8" y2="1768.6" stroke="#efefef" stroke-width="2.8"/>
<line x1="135.3" y1="1831.4" x2="757.8" y2="1831.4" stroke="#f8f8f8" stroke-width="2.2"/>
<line x1="145.2" y1="1424.2" x2="145.2" y2="1886.6" stroke="#f2f2f2" stroke-width="2.8"/>
<line x1="226.5" y1="1424.2" x2="226.5" y2="1886.6" stroke="#f9f9f9" stroke-width="2.4"/>
<line x1="307.8" y1="1424.2" x2="307.8" y2="1886.6" stroke="#f2f2f2" stroke-width="2.8"/>
<line x1="389.1" y1="1424.2" x2="389.1" y2="1886.6" stroke="#f9f9f9" stroke-width="2.4"/>
<line x1="470.4" y1="1424.2" x2="470.4" y2="1886.6" stroke="#f2f2f2" stroke-width="2.8"/>
<line x1="551.7" y1="1424.2" x2="551.7" y2="1886.6" stroke="#f9f9f9" stroke-width="2.4"/>
<line x1="633" y1="1424.2" x2="633" y2="1886.6" stroke="#f2f2f2" stroke-width="2.8"/>
<line x1="714.3" y1="1424.2" x2="714.3" y2="1886.6" stroke="#f9f9f9" stroke-width="2.4"/>
<path d="M161.7 1455.4 L168.3 1544 L175.9 1618.3 L182.5 1668.6 L190.1 1707.9 L197.8 1728.7 L204.3 1721 L212 1711.2 L218.5 1699.2 L226.2 1690.8 L233.8 1707.9 L240.4 1726.5 L248 1731.9 L255.7 1736.3 L262.2 1712.3 L268.8 1664.2 L275.4 1611.7 L283 1546.1 L291.7 1497 L299.4 1513.4 L306 1550.5 L312.5 1598.6 L320.2 1670.7 L327.8 1682.8 L334.4 1640.1 L340.9 1598.6 L348.6 1568 L356.2 1547.9 L363.9 1569.1 L371.5 1608.4 L378.1 1646.7 L385.7 1709 L392.3 1731.9 L399.9 1706.8 L407.6 1689.3 L414.2 1681.7 L421.8 1675.1 L429.5 1678.4 L436 1684.9 L443.7 1703.5 L448.7 1731.9 L456.4 1758.2 L464 1782.2 L471.7 1795.3 L479.3 1797.1 L487 1793.1 L493.6 1784.4 L501.2 1764.7 L507.8 1764.3 L515.4 1777.8 L523.1 1771.3 L529.6 1742.9 L536.2 1712.3 L542.7 1666.4 L551.5 1605.2 L558 1599.7 L565.7 1609.5 L572.2 1604.1 L579.9 1598.6 L587.5 1587.7 L594.1 1550.5 L601.7 1525.4 L609.4 1539.6 L616 1561.4 L623.6 1594.2 L630.2 1648.9 L637.8 1651.1 L645.5 1616.1 L652 1581.1 L658.6 1528.7 L666.2 1480.6 L673.9 1454.3 L681.5 1443.4 L688.1 1489.3 L694.6 1565.8 L702.3 1592 L709.9 1603 L717.6 1599.7 L724.2 1581.1 L731.8 1545.1" fill="none" stroke="#ff0000" stroke-width="2.8" stroke-linejoin="round"/>
<path d="M161.7 1582.2 L178.1 1582.9 L194.5 1584.4 L210.9 1580 L227.3 1587.7 L243.7 1590.3 L260.1 1589.4 L275.4 1574.6 L291.7 1581.1 L308.1 1607.3 L324.5 1606.3 L340.9 1648.9 L357.3 1672.9 L373.7 1735.2 L390.1 1778.9 L406.5 1805.2 L422.9 1830.3 L438.2 1855.4 L440 1856.5 L455.3 1863.1 L471.7 1867.5 L487 1859.8 L503.4 1840.1 L519.8 1795.3 L536.2 1716.6 L552.6 1620.5 L569 1546.1 L585.4 1522.1 L601.7 1477.3 L618.1 1444.5 L634.5 1486 L650.9 1509 L666.2 1533 L682.6 1536.3 L699 1540 L715.4 1563.6 L731.8 1583.3" fill="none" stroke="#0000ff" stroke-width="2.8" stroke-linejoin="round"/>
<rect x="133.3" y="1422.2" width="626.5" height="466.4" fill="none" stroke="#666" stroke-width="2.2"/>
<path d="M133.80 1513.60L133.80 1517.00L129.00 1515.30Z" fill="#333"/>
<path d="M133.80 1640.30L133.80 1643.70L129.00 1642.00Z" fill="#333"/>
<path d="M133.80 1766.90L133.80 1770.30L129.00 1768.60Z" fill="#333"/>
<path d="M143.50 1888.10L146.90 1888.10L145.20 1892.90Z" fill="#333"/>
<path d="M306.10 1888.10L309.50 1888.10L307.80 1892.90Z" fill="#333"/>
<path d="M468.70 1888.10L472.10 1888.10L470.40 1892.90Z" fill="#333"/>
<path d="M631.30 1888.10L634.70 1888.10L633.00 1892.90Z" fill="#333"/>
<path d="M763 0L583 0L583 1147C518 1085 433 1023 327 961C286 937 250 919 223 906L223 1080C315 1123 396 1175 466 1236C536 1297 586 1357 616 1415L646 1466L763 1466Z" transform="translate(95.19 1528.34) scale(0.01807 -0.01807)"/>
<text x="92.96" y="1651.54" font-size="37">0</text>
<text x="82.32" y="1784.04" font-size="37">-</text><path d="M763 0L583 0L583 1147C518 1085 433 1023 327 961C286 937 250 919 223 906L223 1080C315 1123 396 1175 466 1236C536 1297 586 1357 616 1415L646 1466L763 1466Z" transform="translate(94.65 1784.04) scale(0.01807 -0.01807)"/>
<text x="192.17" y="1464.40" font-size="32.5" xml:space="preserve">G; r = 0.42</text>
<g transform="translate(353.79 1454.70) scale(1.1 1)"><text x="0.00" y="0.00" font-size="19.2" xml:space="preserve">(no lag)</text></g>
<line x1="818.2" y1="1458.3" x2="1435.6" y2="1458.3" stroke="#f8f8f8" stroke-width="2.2"/>
<line x1="818.2" y1="1495.2" x2="1435.6" y2="1495.2" stroke="#efefef" stroke-width="2.8"/>
<line x1="818.2" y1="1533" x2="1435.6" y2="1533" stroke="#f8f8f8" stroke-width="2.2"/>
<line x1="818.2" y1="1569.9" x2="1435.6" y2="1569.9" stroke="#efefef" stroke-width="2.8"/>
<line x1="818.2" y1="1606.9" x2="1435.6" y2="1606.9" stroke="#f8f8f8" stroke-width="2.2"/>
<line x1="818.2" y1="1644.2" x2="1435.6" y2="1644.2" stroke="#efefef" stroke-width="2.8"/>
<line x1="818.2" y1="1680.6" x2="1435.6" y2="1680.6" stroke="#f8f8f8" stroke-width="2.2"/>
<line x1="818.2" y1="1718.4" x2="1435.6" y2="1718.4" stroke="#efefef" stroke-width="2.8"/>
<line x1="818.2" y1="1754.9" x2="1435.6" y2="1754.9" stroke="#f8f8f8" stroke-width="2.2"/>
<line x1="818.2" y1="1792.3" x2="1435.6" y2="1792.3" stroke="#efefef" stroke-width="2.8"/>
<line x1="818.2" y1="1829.2" x2="1435.6" y2="1829.2" stroke="#f8f8f8" stroke-width="2.2"/>
<line x1="818.2" y1="1866.3" x2="1435.6" y2="1866.3" stroke="#efefef" stroke-width="2.8"/>
<line x1="828.3" y1="1424.2" x2="828.3" y2="1884.6" stroke="#f2f2f2" stroke-width="2.8"/>
<line x1="909.2" y1="1424.2" x2="909.2" y2="1884.6" stroke="#f9f9f9" stroke-width="2.4"/>
<line x1="990.2" y1="1424.2" x2="990.2" y2="1884.6" stroke="#f2f2f2" stroke-width="2.8"/>
<line x1="1071.1" y1="1424.2" x2="1071.1" y2="1884.6" stroke="#f9f9f9" stroke-width="2.4"/>
<line x1="1152.1" y1="1424.2" x2="1152.1" y2="1884.6" stroke="#f2f2f2" stroke-width="2.8"/>
<line x1="1233" y1="1424.2" x2="1233" y2="1884.6" stroke="#f9f9f9" stroke-width="2.4"/>
<line x1="1314" y1="1424.2" x2="1314" y2="1884.6" stroke="#f2f2f2" stroke-width="2.8"/>
<line x1="1394.9" y1="1424.2" x2="1394.9" y2="1884.6" stroke="#f9f9f9" stroke-width="2.4"/>
<path d="M843.9 1443.4 L850.4 1478.4 L858.1 1511.2 L865.7 1529.8 L872.3 1538.5 L879.9 1540.7 L886.5 1528.7 L894.2 1512.3 L900.7 1492.6 L908.4 1474 L916 1460.9 L923.7 1453.9 L930.2 1453.9 L937.9 1459.8 L944.4 1467.5 L952.1 1474 L959.7 1503.5 L964.1 1565.8 L967.4 1611.7 L972.8 1666.4 L979.4 1707.9 L987 1745.1 L994.7 1765.8 L1001.3 1774.6 L1008.9 1759.3 L1015.5 1699.2 L1023.1 1655.4 L1030.8 1644.5 L1037.3 1645.6 L1045 1667.5 L1051.5 1695.9 L1058.1 1730.9 L1064.6 1798.6 L1072.3 1829.2 L1080.6 1841.9 L1087.6 1829.2 L1094.2 1754.9 L1101.8 1683.9 L1108.4 1650 L1109.5 1642.3 L1116 1610.6 L1123.7 1610 L1130 1628.1 L1138.7 1666.4 L1145.3 1718.8 L1151.9 1758.2 L1159.5 1744 L1167.2 1727.6 L1174.8 1735.2 L1181.4 1748.3 L1187.9 1772.4 L1195.6 1817.2 L1202.1 1828.1 L1209.8 1799.7 L1217.4 1769.1 L1224 1740.7 L1230.5 1714.5 L1238.2 1699.2 L1244.8 1692.6 L1252.4 1714.5 L1260.1 1773.5 L1266.6 1805.2 L1274.3 1818.3 L1281.9 1810.6 L1287.4 1769.1 L1293.9 1705.7 L1301.6 1651.1 L1309.2 1593.1 L1315.8 1587.7 L1323.4 1631.4 L1331.1 1653.3 L1338.7 1659.8 L1346.4 1654.3 L1353 1598.6 L1359.5 1534.1 L1367.2 1517.7 L1373.7 1518.8 L1381.4 1505.7 L1389 1492.6 L1396.7 1478.4 L1403.2 1463.1 L1409.8 1448.9" fill="none" stroke="#ff0000" stroke-width="2.8" stroke-linejoin="round"/>
<path d="M843.9 1471.8 L860.3 1474 L876.7 1478.4 L893.1 1490.4 L909.5 1497 L925.8 1512.3 L942.2 1528.7 L958.6 1538.5 L975 1548.3 L990.3 1556 L1006.7 1560.4 L1022 1589.9 L1038.4 1615 L1051.5 1650 L1058.1 1665.3 L1070.1 1700.3 L1082.1 1730.9 L1094.2 1761.5 L1102.9 1783.3 L1119.3 1817.2 L1130 1829.2 L1135.5 1836.9 L1150.8 1851.1 L1167.2 1860.9 L1183.6 1865.7 L1199.9 1865.7 L1216.3 1861.4 L1232.7 1847.8 L1249.1 1823.8 L1264.4 1785.5 L1280.8 1741.8 L1297.2 1686.1 L1304.9 1650 L1313.6 1598.6 L1328.9 1549.4 L1345.3 1522.1 L1361.7 1495.4 L1378.1 1486 L1394.5 1481.7 L1409.8 1477.7" fill="none" stroke="#0000ff" stroke-width="2.8" stroke-linejoin="round"/>
<rect x="816.2" y="1422.2" width="621.4" height="464.4" fill="none" stroke="#666" stroke-width="2.2"/>
<path d="M816.70 1493.50L816.70 1496.90L811.90 1495.20Z" fill="#333"/>
<path d="M816.70 1568.20L816.70 1571.60L811.90 1569.90Z" fill="#333"/>
<path d="M816.70 1642.50L816.70 1645.90L811.90 1644.20Z" fill="#333"/>
<path d="M816.70 1716.70L816.70 1720.10L811.90 1718.40Z" fill="#333"/>
<path d="M816.70 1790.60L816.70 1794.00L811.90 1792.30Z" fill="#333"/>
<path d="M816.70 1864.60L816.70 1868.00L811.90 1866.30Z" fill="#333"/>
<path d="M826.60 1886.10L830.00 1886.10L828.30 1890.90Z" fill="#333"/>
<circle cx="828.30" cy="1892.60" r="1.3" fill="#c8c8c8"/>
<path d="M988.50 1886.10L991.90 1886.10L990.20 1890.90Z" fill="#333"/>
<circle cx="982.90" cy="1892.60" r="1.3" fill="#c8c8c8"/>
<circle cx="990.20" cy="1892.60" r="1.3" fill="#c8c8c8"/>
<circle cx="998.10" cy="1892.60" r="1.3" fill="#c8c8c8"/>
<path d="M1150.40 1886.10L1153.80 1886.10L1152.10 1890.90Z" fill="#333"/>
<circle cx="1144.80" cy="1892.60" r="1.3" fill="#c8c8c8"/>
<circle cx="1152.10" cy="1892.60" r="1.3" fill="#c8c8c8"/>
<circle cx="1160.00" cy="1892.60" r="1.3" fill="#c8c8c8"/>
<path d="M1312.30 1886.10L1315.70 1886.10L1314.00 1890.90Z" fill="#333"/>
<circle cx="1306.70" cy="1892.60" r="1.3" fill="#c8c8c8"/>
<circle cx="1314.00" cy="1892.60" r="1.3" fill="#c8c8c8"/>
<circle cx="1321.90" cy="1892.60" r="1.3" fill="#c8c8c8"/>
<path d="M763 0L583 0L583 1147C518 1085 433 1023 327 961C286 937 250 919 223 906L223 1080C315 1123 396 1175 466 1236C536 1297 586 1357 616 1415L646 1466L763 1466Z" transform="translate(780.99 1512.44) scale(0.01807 -0.01807)"/>
<text x="784.76" y="1656.74" font-size="37">0</text>
<text x="775.73" y="1799.44" font-size="37">-</text><path d="M763 0L583 0L583 1147C518 1085 433 1023 327 961C286 937 250 919 223 906L223 1080C315 1123 396 1175 466 1236C536 1297 586 1357 616 1415L646 1466L763 1466Z" transform="translate(788.05 1799.44) scale(0.01807 -0.01807)"/>
<text x="1155.74" y="1464.90" font-size="32.5" xml:space="preserve">H; r = 0.62</text>
<g transform="translate(1315.59 1455.20) scale(1.1 1)"><text x="0.00" y="0.00" font-size="19.2" xml:space="preserve">(no lag)</text></g>
<line x1="135.2" y1="1911.9" x2="756.7" y2="1911.9" stroke="#f8f8f8" stroke-width="2.2"/>
<line x1="135.2" y1="1985" x2="756.7" y2="1985" stroke="#efefef" stroke-width="2.8"/>
<line x1="135.2" y1="2056.6" x2="756.7" y2="2056.6" stroke="#f8f8f8" stroke-width="2.2"/>
<line x1="135.2" y1="2128.7" x2="756.7" y2="2128.7" stroke="#efefef" stroke-width="2.8"/>
<line x1="135.2" y1="2200.8" x2="756.7" y2="2200.8" stroke="#f8f8f8" stroke-width="2.2"/>
<line x1="135.2" y1="2273.2" x2="756.7" y2="2273.2" stroke="#efefef" stroke-width="2.8"/>
<line x1="135.2" y1="2344.7" x2="756.7" y2="2344.7" stroke="#f8f8f8" stroke-width="2.2"/>
<line x1="145.1" y1="1901.6" x2="145.1" y2="2359.1" stroke="#f2f2f2" stroke-width="2.8"/>
<line x1="226.4" y1="1901.6" x2="226.4" y2="2359.1" stroke="#f9f9f9" stroke-width="2.4"/>
<line x1="307.8" y1="1901.6" x2="307.8" y2="2359.1" stroke="#f2f2f2" stroke-width="2.8"/>
<line x1="389.1" y1="1901.6" x2="389.1" y2="2359.1" stroke="#f9f9f9" stroke-width="2.4"/>
<line x1="470.5" y1="1901.6" x2="470.5" y2="2359.1" stroke="#f2f2f2" stroke-width="2.8"/>
<line x1="551.9" y1="1901.6" x2="551.9" y2="2359.1" stroke="#f9f9f9" stroke-width="2.4"/>
<line x1="633.2" y1="1901.6" x2="633.2" y2="2359.1" stroke="#f2f2f2" stroke-width="2.8"/>
<line x1="714.6" y1="1901.6" x2="714.6" y2="2359.1" stroke="#f9f9f9" stroke-width="2.4"/>
<path d="M161.7 1927.2 L168.3 1930.4 L175.9 1933.7 L183.6 1937 L191.2 1940.3 L199.9 1943.6 L207.6 1945.7 L216.3 1950.1 L224 1955.6 L231.6 1964.3 L238.2 1980.7 L243.7 1991.6 L252.4 1997.1 L259 1994.9 L266.6 1987.3 L274.3 1977.4 L283 1967.6 L291.7 1959.9 L299.4 1966.5 L307 1981.8 L314.7 1988.4 L322.3 1997.1 L327.8 2010.2 L334.4 2032.1 L340.9 2051.7 L346.4 2071.4 L351.9 2093.3 L357.3 2113 L362.8 2137 L368.3 2156.7 L375.9 2162.1 L382.5 2151.2 L387.9 2132.6 L394.5 2128.3 L401 2125 L406.5 2137 L412 2169.8 L418.5 2206.9 L424 2244.1 L429.5 2279.1 L434.9 2316.2 L440 2335.3 L453.1 2332 L460.8 2336.4 L470.6 2338.6 L479.3 2337.5 L485.9 2330.9 L491.4 2312.3 L497.9 2288.3 L503.4 2270.8 L509.9 2244.6 L515.4 2222.7 L522 2210.7 L528.5 2220.5 L535.1 2238 L540.5 2255.5 L547.1 2279.6 L553.7 2301.4 L560.2 2316.7 L566.8 2324.4 L571.1 2312.3 L575.5 2286.1 L579.9 2259.9 L584.3 2246.8 L593 2234.8 L599.6 2229.3 L607.2 2233.7 L614.9 2242.4 L623.6 2249 L630.2 2252.2 L636.7 2238 L643.3 2203.1 L649.8 2163.7 L655.3 2137.5 L658.6 2121.7 L659.7 2120 L665.1 2103.1 L672.8 2092.2 L680.4 2083.4 L687 2095.5 L693.6 2113 L701.2 2105.3 L708.9 2095.5 L715.4 2070.3 L722 2043 L726.3 2012.4 L731.8 1989.5" fill="none" stroke="#ff0000" stroke-width="2.8" stroke-linejoin="round" stroke-dasharray="10.5 8.5"/>
<path d="M161.7 1927.2 L168.3 1946.8 L175.9 1964.3 L182.5 1977.4 L189 1988.4 L196.7 1993.8 L204.3 1997.1 L212 1996 L218.5 1987.3 L226.2 1976.3 L233.8 1967.6 L240.4 1960.4 L248 1964.3 L255.7 1978.5 L263.3 1987.3 L269.9 1993.8 L276.4 2002.6 L284.1 2023.3 L291.7 2045.2 L298.3 2067 L306 2093.3 L312.5 2118.4 L320.2 2156.7 L326.7 2165.4 L333.3 2144.6 L340.9 2132.6 L348.6 2126.5 L356.2 2130.4 L362.8 2158.9 L370.4 2202.6 L378.1 2246.3 L384.6 2309.7 L392.3 2342.5 L399.9 2338.1 L406.5 2334.8 L414.2 2340.3 L421.8 2342.5 L429.5 2341.4 L436 2337 L442.6 2316.2 L444.4 2300.9 L449.8 2281.3 L456.4 2257.2 L463 2231 L471.7 2210.2 L479.3 2219 L485.9 2235.4 L493.6 2261.6 L499 2287.8 L506.7 2307.5 L515.4 2322.8 L522 2316.2 L528.5 2283.4 L536.2 2243 L543.8 2234.3 L551.5 2228.8 L558 2231 L565.7 2241.9 L572.2 2245.2 L579.9 2251.7 L586.4 2243 L594.1 2209.1 L601.7 2169.8 L608.3 2143.6 L616 2119.5 L623.6 2103.1 L630.2 2085.6 L637.8 2091.1 L644.4 2125 L652 2134.8 L658.6 2123.9 L666.2 2102 L672.8 2047.4 L680.4 1997.1 L688.1 1964.3 L695.7 1939.2 L702.3 1927.2 L709.9 1920.2 L717.6 1923.9 L724.2 1935.9 L731.8 1958.9" fill="none" stroke="#ff0000" stroke-width="2.8" stroke-linejoin="round"/>
<path d="M161.7 1968.7 L178.1 1942.5 L194.5 1927.2 L210.9 1926.1 L227.3 1932.6 L242.6 1941.4 L259 1949 L275.4 1954.5 L291.7 1957.8 L308.1 1964.3 L324.5 1980.7 L340.9 2009.1 L357.3 2052.8 L373.7 2105.3 L389 2152.3 L405.4 2193.8 L421.8 2224.4 L438.2 2245.2 L440 2247.9 L454.2 2262.1 L470.6 2271.9 L487 2278.5 L503.4 2282.8 L519.8 2286.1 L536.2 2288.3 L552.6 2289 L569 2289 L585.4 2288.3 L601.7 2286.1 L617 2281.7 L632.3 2270.8 L649.8 2251.1 L666.2 2220.5 L682.6 2181.2 L699 2123.3 L700.1 2120 L715.4 2071.4 L731.8 2009.1" fill="none" stroke="#0000ff" stroke-width="2.8" stroke-linejoin="round"/>
<rect x="133.2" y="1899.6" width="625.5" height="461.5" fill="none" stroke="#666" stroke-width="2.2"/>
<path d="M133.70 1983.30L133.70 1986.70L128.90 1985.00Z" fill="#333"/>
<path d="M133.70 2127.00L133.70 2130.40L128.90 2128.70Z" fill="#333"/>
<path d="M133.70 2271.50L133.70 2274.90L128.90 2273.20Z" fill="#333"/>
<path d="M143.40 2360.60L146.80 2360.60L145.10 2365.40Z" fill="#333"/>
<path d="M306.10 2360.60L309.50 2360.60L307.80 2365.40Z" fill="#333"/>
<path d="M468.80 2360.60L472.20 2360.60L470.50 2365.40Z" fill="#333"/>
<path d="M631.50 2360.60L634.90 2360.60L633.20 2365.40Z" fill="#333"/>
<path d="M763 0L583 0L583 1147C518 1085 433 1023 327 961C286 937 250 919 223 906L223 1080C315 1123 396 1175 466 1236C536 1297 586 1357 616 1415L646 1466L763 1466Z" transform="translate(95.19 2002.59) scale(0.01807 -0.01807)"/>
<text x="100.66" y="2140.64" font-size="37">0</text>
<text x="88.03" y="2283.19" font-size="37">-</text><path d="M763 0L583 0L583 1147C518 1085 433 1023 327 961C286 937 250 919 223 906L223 1080C315 1123 396 1175 466 1236C536 1297 586 1357 616 1415L646 1466L763 1466Z" transform="translate(100.35 2283.19) scale(0.01807 -0.01807)"/>
<text x="492.70" y="1939.90" font-size="32.5" xml:space="preserve">I; r = 0.62</text>
<g transform="translate(639.79 1930.20) scale(1.1 1)"><text x="0.00" y="0.00" font-size="19.2" xml:space="preserve">(+30)</text></g>
<line x1="821" y1="1967.2" x2="1440.6" y2="1967.2" stroke="#efefef" stroke-width="2.8"/>
<line x1="821" y1="2029.9" x2="1440.6" y2="2029.9" stroke="#f8f8f8" stroke-width="2.2"/>
<line x1="821" y1="2093" x2="1440.6" y2="2093" stroke="#efefef" stroke-width="2.8"/>
<line x1="821" y1="2154.9" x2="1440.6" y2="2154.9" stroke="#f8f8f8" stroke-width="2.2"/>
<line x1="821" y1="2217.8" x2="1440.6" y2="2217.8" stroke="#efefef" stroke-width="2.8"/>
<line x1="821" y1="2280.2" x2="1440.6" y2="2280.2" stroke="#f8f8f8" stroke-width="2.2"/>
<line x1="821" y1="2343.6" x2="1440.6" y2="2343.6" stroke="#efefef" stroke-width="2.8"/>
<line x1="830.7" y1="1901.4" x2="830.7" y2="2356.7" stroke="#f2f2f2" stroke-width="2.8"/>
<line x1="911.9" y1="1901.4" x2="911.9" y2="2356.7" stroke="#f9f9f9" stroke-width="2.4"/>
<line x1="993" y1="1901.4" x2="993" y2="2356.7" stroke="#f2f2f2" stroke-width="2.8"/>
<line x1="1074.2" y1="1901.4" x2="1074.2" y2="2356.7" stroke="#f9f9f9" stroke-width="2.4"/>
<line x1="1155.3" y1="1901.4" x2="1155.3" y2="2356.7" stroke="#f2f2f2" stroke-width="2.8"/>
<line x1="1236.5" y1="1901.4" x2="1236.5" y2="2356.7" stroke="#f9f9f9" stroke-width="2.4"/>
<line x1="1317.6" y1="1901.4" x2="1317.6" y2="2356.7" stroke="#f2f2f2" stroke-width="2.8"/>
<line x1="1398.8" y1="1901.4" x2="1398.8" y2="2356.7" stroke="#f9f9f9" stroke-width="2.4"/>
<path d="M847.2 2286.7 L851.5 2250.7 L857 2200.4 L862.5 2158.9 L866.8 2126.1 L873.4 2094.4 L879.9 2064.9 L885.4 2034.3 L892 2005.8 L898.5 1979.6 L905.1 1962.1 L911.6 1956.7 L918.2 1966.5 L924.8 1990.5 L931.3 2014.6 L936.8 2045.2 L941.1 2071.4 L946.6 2093.3 L954.3 2104.2 L963 2097.7 L968.5 2076.9 L972.8 2049.6 L979.4 2034.3 L986 2027.7 L992.5 2035.4 L996.9 2056.1 L1001.3 2081.3 L1006.7 2116.2 L1012.2 2145.7 L1017.7 2172 L1023.1 2200.4 L1028.6 2224.4 L1035.1 2255 L1041.7 2268.1 L1047.2 2239.7 L1051.5 2211.3 L1055.9 2178.5 L1063.6 2161 L1072.3 2150.1 L1081 2152.3 L1088.7 2165.4 L1094.2 2185.1 L1099.6 2211.3 L1105.1 2244.1 L1111.6 2263.8 L1118.2 2268.1 L1124.8 2274.7 L1130 2309.7 L1134.4 2322.8 L1142 2327.2 L1149.7 2329.3 L1158.4 2327.2 L1166.1 2321.7 L1174.8 2317.3 L1183.6 2314 L1192.3 2311.9 L1199.9 2315.1 L1207.6 2318.4 L1215.2 2323.9 L1222.9 2322.8 L1230.5 2311.9 L1238.2 2299.8 L1245.8 2292.2 L1254.6 2283.4 L1263.3 2281.3 L1272.1 2285.6 L1279.7 2292.2 L1287.4 2299.8 L1295 2305.3 L1302.7 2310.8 L1311.4 2318.4 L1321.3 2320.6 L1328.9 2320.6 L1337.7 2326.1 L1346.4 2328.3 L1353 2310.8 L1359.5 2283.4 L1366.1 2263.8 L1373.7 2253.9 L1381.4 2251.7 L1389 2257.2 L1396.7 2266 L1403.2 2285.6 L1408.7 2311.9 L1414.2 2333.7" fill="none" stroke="#ff0000" stroke-width="2.8" stroke-linejoin="round" stroke-dasharray="10.5 8.5"/>
<path d="M847.2 1973.1 L853.7 2015.7 L861.4 2052.8 L869 2073.6 L876.7 2083.4 L883.2 2082.3 L889.8 2053.9 L897.4 2033.2 L904.4 2027.7 L911.6 2033.2 L918.2 2064.9 L924.8 2117.3 L931.3 2150.1 L939 2185.1 L947.7 2220.1 L954.3 2257.2 L961.9 2268.1 L969.6 2213.5 L976.1 2172 L983.8 2155.6 L991.4 2149 L998 2151.2 L1004.5 2162.1 L1012.2 2182.9 L1019.8 2228.8 L1026.4 2258.3 L1034 2267 L1040.6 2271.4 L1047.2 2295.5 L1054.8 2321.7 L1062.5 2331.5 L1070.1 2329.8 L1076.7 2327.2 L1085.4 2320.6 L1092 2316.2 L1099.6 2311.9 L1107.3 2307.5 L1113.8 2308.6 L1121.5 2313 L1130 2318.4 L1136.6 2322.8 L1139.8 2326.1 L1146.4 2316.2 L1154 2304.2 L1161.7 2295.5 L1170.4 2286.7 L1178.1 2282.3 L1184.6 2281.3 L1192.3 2285.6 L1199.9 2295.5 L1207.6 2303.1 L1215.2 2308.6 L1224 2315.1 L1231.6 2321.7 L1239.3 2323.9 L1249.1 2322.8 L1256.8 2323.9 L1263.3 2329.3 L1271 2321.7 L1276.4 2292.2 L1285.2 2266 L1292.8 2248.5 L1300.5 2237.5 L1308.1 2248.5 L1314.7 2274.7 L1322.3 2294.4 L1327.8 2316.2 L1335.5 2327.2 L1342 2318.4 L1349.7 2290 L1355.1 2252.8 L1361.7 2204.8 L1368.3 2152.3 L1374.8 2099.8 L1381.4 2064.9 L1389 2032.1 L1395.6 2005.8 L1401 1990.5 L1407.6 1981.8 L1414.2 1973.1" fill="none" stroke="#ff0000" stroke-width="2.8" stroke-linejoin="round"/>
<path d="M847.2 2276.9 L863.6 2251.7 L878.9 2211.3 L895.2 2156.7 L911.6 2086.7 L928 2019 L944.4 1964.3 L960.8 1933.7 L977.2 1920.2 L992.5 1958.9 L1007.8 2029.9 L1024.2 2108.6 L1040.6 2174.2 L1058.1 2220.1 L1074.5 2248.5 L1090.9 2268.1 L1107.3 2280.2 L1123.7 2287.8 L1130 2288.9 L1146.4 2293.3 L1161.7 2296.6 L1178.1 2299.8 L1194.5 2302 L1210.9 2303.8 L1227.3 2304.9 L1243.7 2305.3 L1260.1 2306 L1276.4 2306.4 L1292.8 2306.4 L1309.2 2306.4 L1325.6 2306.4 L1342 2306 L1358.4 2304.9 L1374.8 2303.6 L1391.2 2300.9 L1401 2298.7 L1414.2 2292.6" fill="none" stroke="#0000ff" stroke-width="2.8" stroke-linejoin="round"/>
<rect x="819" y="1899.4" width="623.6" height="459.3" fill="none" stroke="#666" stroke-width="2.2"/>
<path d="M819.50 1965.50L819.50 1968.90L814.70 1967.20Z" fill="#333"/>
<path d="M819.50 2091.30L819.50 2094.70L814.70 2093.00Z" fill="#333"/>
<path d="M819.50 2216.10L819.50 2219.50L814.70 2217.80Z" fill="#333"/>
<path d="M819.50 2341.90L819.50 2345.30L814.70 2343.60Z" fill="#333"/>
<path d="M829.00 2358.20L832.40 2358.20L830.70 2363.00Z" fill="#333"/>
<path d="M991.30 2358.20L994.70 2358.20L993.00 2363.00Z" fill="#333"/>
<path d="M1153.60 2358.20L1157.00 2358.20L1155.30 2363.00Z" fill="#333"/>
<path d="M1315.90 2358.20L1319.30 2358.20L1317.60 2363.00Z" fill="#333"/>
<path d="M763 0L583 0L583 1147C518 1085 433 1023 327 961C286 937 250 919 223 906L223 1080C315 1123 396 1175 466 1236C536 1297 586 1357 616 1415L646 1466L763 1466Z" transform="translate(782.09 1980.84) scale(0.01807 -0.01807)"/>
<text x="784.76" y="2106.84" font-size="37">0</text>
<text x="777.12" y="2226.49" font-size="37">-</text><path d="M763 0L583 0L583 1147C518 1085 433 1023 327 961C286 937 250 919 223 906L223 1080C315 1123 396 1175 466 1236C536 1297 586 1357 616 1415L646 1466L763 1466Z" transform="translate(789.45 2226.49) scale(0.01807 -0.01807)"/>
<text x="1172.09" y="1939.90" font-size="32.5" xml:space="preserve">J; r = 0.62</text>
<g transform="translate(1323.19 1930.20) scale(1.1 1)"><text x="0.00" y="0.00" font-size="19.2" xml:space="preserve">(+30)</text></g>
<text x="138.81" y="2404.14" font-size="37">0</text>
<path d="M763 0L583 0L583 1147C518 1085 433 1023 327 961C286 937 250 919 223 906L223 1080C315 1123 396 1175 466 1236C536 1297 586 1357 616 1415L646 1466L763 1466Z" transform="translate(276.34 2404.46) scale(0.01807 -0.01807)"/><text x="296.92" y="2404.46" font-size="37">0</text><text x="317.50" y="2404.46" font-size="37">0</text>
<text x="437.68" y="2404.64" font-size="37">2</text><text x="458.25" y="2404.64" font-size="37">0</text><text x="478.83" y="2404.64" font-size="37">0</text>
<text x="600.30" y="2404.64" font-size="37">3</text><text x="620.88" y="2404.64" font-size="37">0</text><text x="641.46" y="2404.64" font-size="37">0</text>
<text x="826.81" y="2404.64" font-size="37">0</text>
<path d="M763 0L583 0L583 1147C518 1085 433 1023 327 961C286 937 250 919 223 906L223 1080C315 1123 396 1175 466 1236C536 1297 586 1357 616 1415L646 1466L763 1466Z" transform="translate(964.34 2404.96) scale(0.01807 -0.01807)"/><text x="984.92" y="2404.96" font-size="37">0</text><text x="1005.50" y="2404.96" font-size="37">0</text>
<text x="1125.38" y="2404.64" font-size="37">2</text><text x="1145.95" y="2404.64" font-size="37">0</text><text x="1166.53" y="2404.64" font-size="37">0</text>
<text x="1288.10" y="2404.64" font-size="37">3</text><text x="1308.68" y="2404.64" font-size="37">0</text><text x="1329.26" y="2404.64" font-size="37">0</text>
<text x="622.6" y="2462" font-size="48">Day of year</text>
<text transform="translate(54.7 1107.8) rotate(-90)" font-size="48">Standardised biomass (z-score)</text>
</svg></body></html>
